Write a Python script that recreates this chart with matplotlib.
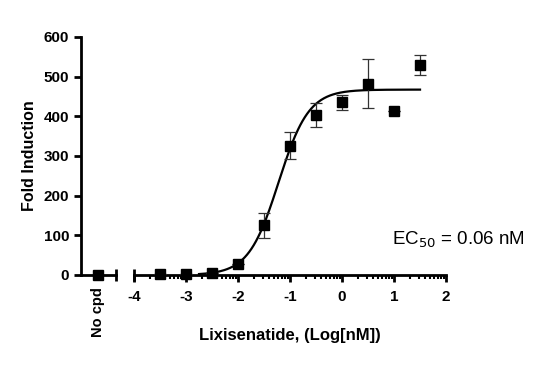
import numpy as np
import matplotlib.pyplot as plt

plt.rcParams['font.family'] = ['Liberation Sans', 'DejaVu Sans']

# measured points (log nM), mean fold induction and SD
log_conc = [-3.5, -3.0, -2.5, -2.0, -1.5, -1.0, -0.5, 0.0, 0.5, 1.0, 1.5]
fold = [2, 3, 5, 28, 125, 326, 403, 435, 482, 414, 530]
sd = [0, 0, 0, 0, 32, 33, 31, 19, 61, 0, 25]
no_cpd = 0

# 4PL fit parameters
bottom, top = 0.0, 467.0
log_ec50 = -1.22
hill = 1.5
curve_x = np.linspace(-2.75, 1.5, 300)
curve_y = bottom + (top - bottom) / (1 + 10 ** ((log_ec50 - curve_x) * hill))

fig = plt.figure(figsize=(5.45, 3.67), dpi=100)
ax0 = fig.add_axes([0.1486, 0.2507, 0.0642, 0.649])
ax1 = fig.add_axes([0.2459, 0.2507, 0.5725, 0.649])

lw = 2.0
for ax in (ax0, ax1):
    ax.set_ylim(0, 600)
    ax.spines['top'].set_visible(False)
    ax.spines['right'].set_visible(False)
    ax.spines['bottom'].set_linewidth(lw)
    ax.spines['left'].set_linewidth(lw)
    ax.tick_params(width=lw, length=5)

# "No cpd" segment
ax0.set_xlim(-1, 1)
ax0.errorbar([-0.03], [no_cpd], fmt='s', color='black', ms=7, clip_on=False, zorder=5)
ax0.set_xticks([-0.03])
ax0.set_xticklabels(['No cpd'], rotation=90, fontweight='bold', fontsize=10.5)
ax0.tick_params(axis='x', length=0, pad=9)
ax0.set_yticks([0, 100, 200, 300, 400, 500, 600])
ax0.set_yticklabels([0, 100, 200, 300, 400, 500, 600], fontweight='bold', fontsize=11)
ax0.plot([1], [0], marker='|', ms=9, mew=lw, color='black', transform=ax0.get_yaxis_transform(), clip_on=False)
ax0.set_ylabel('Fold Induction', fontweight='bold', fontsize=11.5, labelpad=5)

# main dose-response segment
ax1.spines['left'].set_visible(False)
ax1.set_yticks([])
ax1.set_xlim(-4, 2)
ax1.set_xticks(range(-4, 3))
ax1.set_xticklabels([str(v) for v in range(-4, 3)], fontweight='bold', fontsize=11)
ax1.tick_params(axis='x', which='major', pad=6)
minor = [d + np.log10(k) for d in range(-4, 2) for k in range(2, 10)]
ax1.set_xticks(minor, minor=True)
ax1.tick_params(axis='x', which='minor', length=3, width=1.5)
ax1.plot([0], [0], marker='|', ms=9, mew=lw, color='black', transform=ax1.get_yaxis_transform(), clip_on=False)

ax1.plot(curve_x, curve_y, color='black', lw=1.6)
ax1.errorbar(log_conc, fold, yerr=sd, fmt='s', color='black', ms=7,
             ecolor='#333333', elinewidth=0.9, capsize=4, capthick=0.9, clip_on=False, zorder=5)
ax1.set_xlabel('Lixisenatide, (Log[nM])', fontweight='bold', fontsize=12, labelpad=17)
ax1.text(0.96, 88, r'EC$_{50}$ = 0.06 nM', fontsize=13.5, ha='left', va='center')

fig.savefig('out.png', dpi=100)
